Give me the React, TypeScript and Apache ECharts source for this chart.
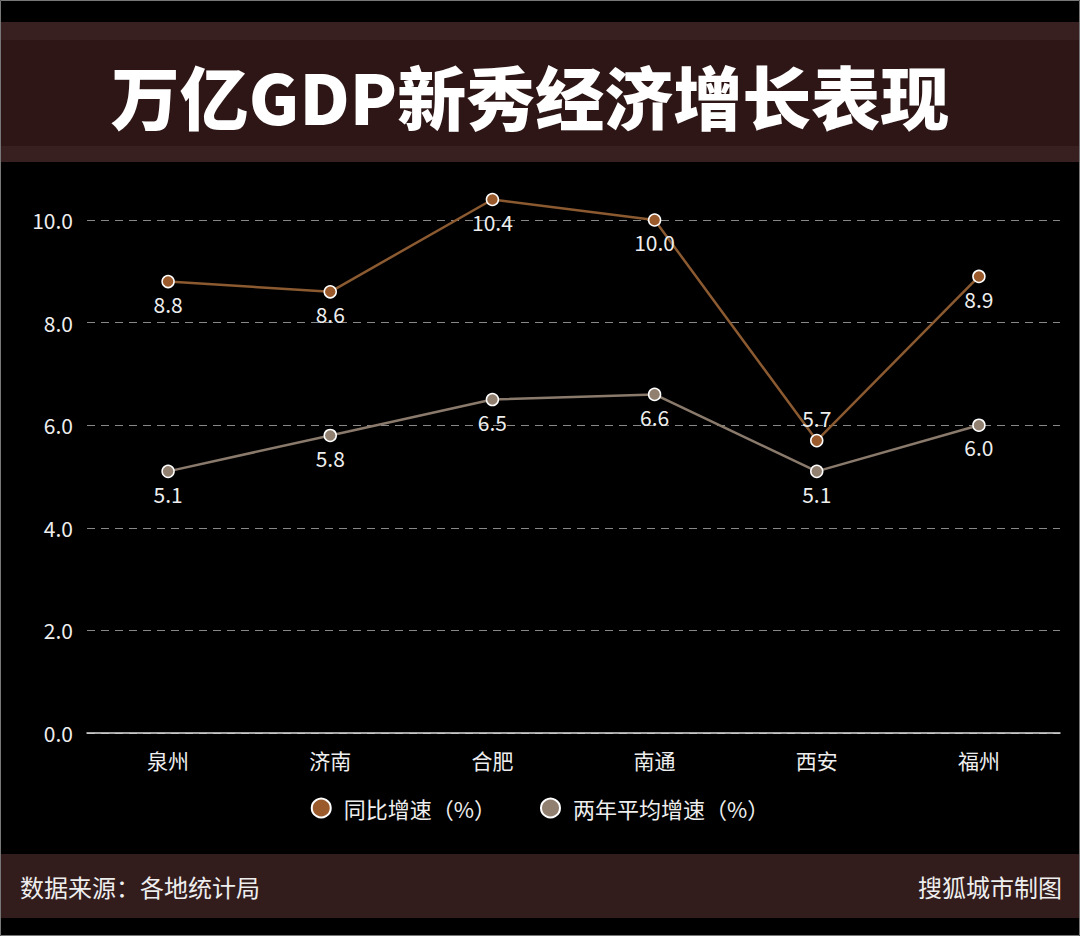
import React, { useEffect, useRef } from "react";
import * as echarts from "echarts";

const categories = ["泉州", "济南", "合肥", "南通", "西安", "福州"];
const yoyGrowth = [8.8, 8.6, 10.4, 10.0, 5.7, 8.9];
const twoYearAvg = [5.1, 5.8, 6.5, 6.6, 5.1, 6.0];
const yoyLabelPos = ["bottom", "bottom", "bottom", "bottom", "top", "bottom"];
const avgLabelPos = ["bottom", "bottom", "bottom", "bottom", "bottom", "bottom"];
const seriesNames = ["同比增速（%）", "两年平均增速（%）"];
const title = "万亿GDP新秀经济增长表现";
const sourceText = "数据来源：各地统计局";
const creditText = "搜狐城市制图";

const FONT = "'Noto Sans CJK SC', 'Noto Sans', sans-serif";

export default function App() {
  const ref = useRef<HTMLDivElement>(null);
  useEffect(() => {
    if (!ref.current) return;
    const chart = echarts.init(ref.current, null, { renderer: "svg" });
    const mk = (vals: number[], pos: string[]) =>
      vals.map((v, i) => ({ value: v, label: { position: pos[i] } }));
    chart.setOption({
      animation: false,
      backgroundColor: "#000",
      textStyle: { fontFamily: FONT },
      graphic: [
        { type: "rect", shape: { x: 0, y: 22, width: 1080, height: 140 }, style: { fill: "#2e1616" }, z: -1 },
        { type: "rect", shape: { x: 0, y: 22, width: 1080, height: 18 }, style: { fill: "#382020" }, z: -1 },
        { type: "rect", shape: { x: 0, y: 146, width: 1080, height: 16 }, style: { fill: "#382020" }, z: -1 },
        {
          type: "text", x: 530, y: 95,
          style: { text: title, fill: "#fff", font: `900 69px ${FONT}`, align: "center", verticalAlign: "middle" },
        },
        { type: "rect", shape: { x: 0, y: 854, width: 1080, height: 64 }, style: { fill: "#331c1c" }, z: -1 },
        {
          type: "text", x: 20, y: 886,
          style: { text: sourceText, fill: "#eee", font: `400 24px ${FONT}`, align: "left", verticalAlign: "middle" },
        },
        {
          type: "text", x: 1062, y: 886,
          style: { text: creditText, fill: "#eee", font: `400 24px ${FONT}`, align: "right", verticalAlign: "middle" },
        },
        { type: "rect", shape: { x: 0.5, y: 0.5, width: 1079, height: 935 }, style: { fill: "none", stroke: "#777", lineWidth: 1 } },
      ],
      legend: {
        top: 792,
        left: "center",
        icon: "circle",
        itemWidth: 19,
        itemHeight: 19,
        itemGap: 44,
        textStyle: { color: "#eee", fontSize: 22, fontFamily: FONT, padding: [0, 0, 0, 8] },
        data: seriesNames,
      },
      grid: { left: 87, right: 20, top: 220, bottom: 203 },
      xAxis: {
        type: "category",
        data: categories,
        axisLine: { lineStyle: { color: "#ddd", width: 1.5 } },
        axisTick: { show: false },
        axisLabel: { color: "#eee", fontSize: 21, margin: 16, fontFamily: FONT },
      },
      yAxis: {
        type: "value",
        min: 0,
        max: 10,
        interval: 2,
        axisLine: { show: false },
        axisTick: { show: false },
        axisLabel: { color: "#eee", fontSize: 21, margin: 14, formatter: (v: number) => v.toFixed(1), fontFamily: FONT },
        splitLine: { lineStyle: { color: "#888", type: [8, 6], width: 1.2 } },
      },
      series: [
        {
          name: seriesNames[0],
          type: "line",
          clip: false,
          data: mk(yoyGrowth, yoyLabelPos),
          color: "#9a5a2c",
          symbol: "circle",
          symbolSize: 12,
          lineStyle: { color: "#8c5a30", width: 2.5 },
          itemStyle: { color: "#9a5a2c", borderColor: "#fff", borderWidth: 1.5 },
          label: { show: true, color: "#eee", fontSize: 21, distance: 5, formatter: (p: any) => p.value.toFixed(1), fontFamily: FONT },
        },
        {
          name: seriesNames[1],
          type: "line",
          clip: false,
          data: mk(twoYearAvg, avgLabelPos),
          color: "#918070",
          symbol: "circle",
          symbolSize: 12,
          lineStyle: { color: "#8a7a6c", width: 2.5 },
          itemStyle: { color: "#918070", borderColor: "#fff", borderWidth: 1.5 },
          label: { show: true, color: "#eee", fontSize: 21, distance: 5, formatter: (p: any) => p.value.toFixed(1), fontFamily: FONT },
        },
      ],
    });
    return () => chart.dispose();
  }, []);
  return <div ref={ref} style={{ position: "fixed", left: 0, top: 0, width: 1080, height: 936 }} />;
}
